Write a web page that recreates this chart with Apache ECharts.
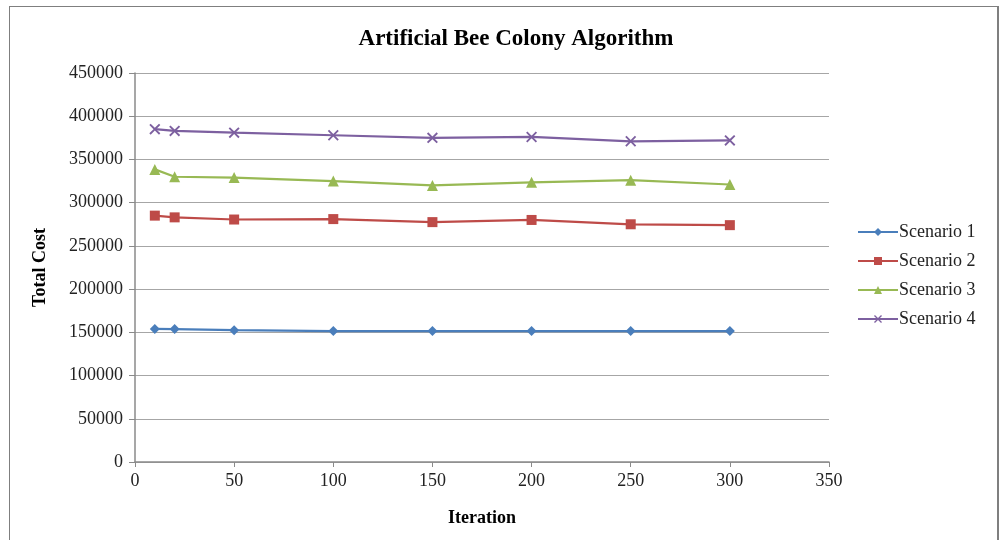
<!DOCTYPE html>
<html><head><meta charset="utf-8">
<script src="https://cdn.jsdelivr.net/npm/echarts@6/dist/echarts.min.js"></script>
<style>
html,body{margin:0;padding:0;background:#fff;}
#frame{position:absolute;left:9px;top:6px;width:990px;height:540px;border:1px solid #7f7f7f;border-right:2px solid #7f7f7f;box-sizing:border-box;}
#c{position:absolute;left:0;top:0;width:1005px;height:540px;}
</style>
</head><body>
<div id="frame"></div>
<div id="c"></div>
<script>
const iterations = [10, 20, 50, 100, 150, 200, 250, 300];
const scenario1 = [154000, 153800, 152500, 151500, 151500, 151500, 151500, 151500];
const scenario2 = [285000, 283000, 280500, 281000, 277500, 280000, 275000, 274000];
const scenario3 = [338500, 330000, 329000, 325000, 320000, 323500, 326000, 321000];
const scenario4 = [385000, 383000, 381000, 378000, 375000, 376000, 371000, 372000];
const seriesNames = ['Scenario 1', 'Scenario 2', 'Scenario 3', 'Scenario 4'];
const titleText = 'Artificial Bee Colony Algorithm';

const colors = ['#4a7ebb', '#be4b48', '#98b954', '#7d60a0'];
const xSym = 'path://M0,1.2 L1.2,0 L5,3.8 L8.8,0 L10,1.2 L6.2,5 L10,8.8 L8.8,10 L5,6.2 L1.2,10 L0,8.8 L3.8,5 Z';
const symbols = ['diamond', 'rect', 'triangle', xSym];
const sizes = [10, 10, 11, 11];
const allData = [scenario1, scenario2, scenario3, scenario4];

const font = '"Liberation Serif", "Times New Roman", serif';
const chart = echarts.init(document.getElementById('c'));
chart.setOption({
  animation: false,
  textStyle: { fontFamily: font },
  title: {
    text: titleText, left: 511, top: 23, textAlign: 'center',
    textStyle: { fontFamily: font, fontSize: 23, fontWeight: 'bold', color: '#000' }
  },
  legend: {
    orient: 'vertical', left: 852, top: 218, itemGap: 11, itemWidth: 40, itemHeight: 10,
    textStyle: { fontFamily: font, fontSize: 18, color: '#222', padding: [0, 0, 0, -4] },
    data: seriesNames
  },
  grid: { left: 135, right: 176, top: 73, bottom: 78 },
  xAxis: {
    type: 'value', min: 0, max: 350, interval: 50,
    name: 'Iteration', nameLocation: 'middle', nameGap: 47,
    nameTextStyle: { fontFamily: font, fontSize: 18, fontWeight: 'bold', color: '#000' },
    axisLine: { show: true, lineStyle: { color: '#8a8a8a', width: 1.5 } },
    axisTick: { show: true, length: 5, inside: false, lineStyle: { color: '#8a8a8a' } },
    axisLabel: { fontFamily: font, fontSize: 18, color: '#222', margin: 10, formatter: v => String(v) },
    splitLine: { show: false }
  },
  yAxis: {
    type: 'value', min: 0, max: 450000, interval: 50000,
    name: 'Total Cost', nameLocation: 'middle', nameGap: 86, nameRotate: 90,
    nameTextStyle: { fontFamily: font, fontSize: 18, fontWeight: 'bold', color: '#000' },
    axisLine: { show: true, lineStyle: { color: '#8a8a8a', width: 1.5 } },
    axisTick: { show: true, length: 6, lineStyle: { color: '#8a8a8a' } },
    axisLabel: { fontFamily: font, fontSize: 18, color: '#222', margin: 12, formatter: v => String(v) },
    splitLine: { show: true, lineStyle: { color: '#a6a6a6', width: 1 } }
  },
  series: allData.map((d, i) => ({
    name: seriesNames[i], type: 'line',
    data: iterations.map((x, j) => [x, d[j]]),
    symbol: symbols[i], symbolSize: sizes[i], showAllSymbol: true,
    lineStyle: { color: colors[i], width: 2.2 },
    itemStyle: { color: colors[i], borderColor: colors[i], borderWidth: 0 },
    emphasis: { disabled: true }
  }))
});
</script>
</body></html>
